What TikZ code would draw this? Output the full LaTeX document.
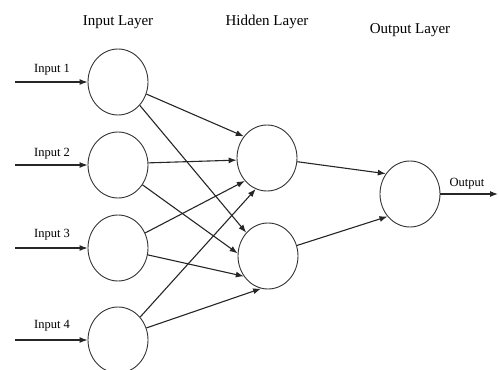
\documentclass[tikz,border=0pt]{standalone}
\usepackage{fontspec}
\setmainfont{Liberation Serif}
\usetikzlibrary{shapes.geometric,arrows.meta}
\begin{document}
\begin{tikzpicture}[x=1pt,y=-1pt,
  neuron/.style={draw=black!80, line width=0.9pt, ellipse, minimum width=60pt, minimum height=66pt, inner sep=0pt},
  conn/.style={draw=black!85, line width=1.1pt, -{Latex[length=8pt,width=6pt]}},
  title/.style={font=\fontsize{15}{17}\selectfont, anchor=base},
  lbl/.style={font=\fontsize{12.5}{14}\selectfont, anchor=base}]
\useasboundingbox (0,0) rectangle (499,370);
% neurons
\node[neuron] (i1) at (118,82) {};
\node[neuron] (i2) at (118,165) {};
\node[neuron] (i3) at (118,248) {};
\node[neuron] (i4) at (118,340) {};
\node[neuron] (h1) at (267,158) {};
\node[neuron] (h2) at (268,256) {};
\node[neuron] (o) at (410,194) {};
% titles
\node[title] (t1) at (118,25) {Input Layer};
\node[title] (t2) at (267,25) {Hidden Layer};
\node[title] (t3) at (410,33) {Output Layer};
% input labels
\node[lbl] (l1) at (52,72) {Input 1};
\node[lbl] (l2) at (52,156) {Input 2};
\node[lbl] (l3) at (52,237) {Input 3};
\node[lbl] (l4) at (52,328) {Input 4};
\node[lbl] (lo) at (467,186) {Output};
% free ends
\coordinate (s1) at (15,82);
\coordinate (s2) at (15,165);
\coordinate (s3) at (15,248);
\coordinate (s4) at (15,340);
\coordinate (e) at (498,194);
% input arrows
\draw[conn] (s1) -- (i1.west);
\draw[conn] (s2) -- (i2.west);
\draw[conn] (s3) -- (i3.west);
\draw[conn] (s4) -- (i4.west);
% input to hidden
\draw[conn] (i1.-23) -- (h1.137);
\draw[conn] (i1.-47) -- (h2.133);
\draw[conn] (i2.4) -- (h1.184);
\draw[conn] (i2.-39) -- (h2.175);
\draw[conn] (i3.29) -- (h1.226);
\draw[conn] (i3.-13) -- (h2.220);
\draw[conn] (i4.46) -- (h1.250);
\draw[conn] (i4.23) -- (h2.258);
% hidden to output
\draw[conn] (h1.-7) -- (o.140);
\draw[conn] (h2.20) -- (o.225);
% output arrow
\draw[conn] (o.east) -- (e);
\end{tikzpicture}
\end{document}
